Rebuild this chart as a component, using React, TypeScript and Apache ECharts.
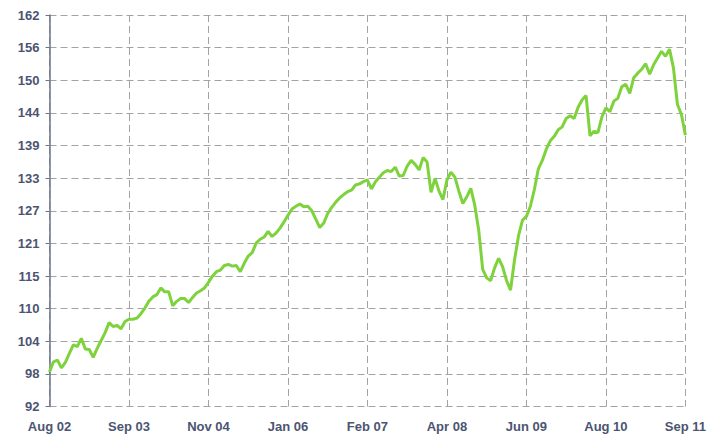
import React, { useEffect, useRef } from "react";
import * as echarts from "echarts";

// x-axis tick labels (evenly spaced)
const xLabels = ["Aug 02", "Sep 03", "Nov 04", "Jan 06", "Feb 07", "Apr 08", "Jun 09", "Aug 10", "Sep 11"];
// y-axis tick labels
const yTickLabels = ["92", "98", "104", "110", "115", "121", "127", "133", "139", "144", "150", "156", "162"];
const yMin = 92;
const yMax = 162;

// index values, sampled evenly across the period (161 samples)
const indexValues = [
  98.2, 100.0, 100.3, 98.9, 99.9, 101.5, 103.0, 102.7, 104.2, 102.3,
  102.2, 100.8, 102.4, 103.8, 105.2, 107.0, 106.3, 106.5, 105.9, 107.2,
  107.6, 107.6, 107.8, 108.6, 109.6, 110.8, 111.6, 112.0, 113.2, 112.5,
  112.5, 110.0, 110.8, 111.3, 111.3, 110.6, 111.5, 112.3, 112.7, 113.2,
  114.2, 115.3, 116.1, 116.4, 117.2, 117.4, 117.1, 117.2, 116.1, 117.6,
  118.9, 119.5, 121.2, 121.9, 122.3, 123.3, 122.4, 123.0, 123.9, 125.0,
  126.2, 127.3, 127.8, 128.2, 127.7, 127.8, 127.0, 125.5, 124.0, 124.8,
  126.5, 127.6, 128.5, 129.3, 129.9, 130.4, 130.7, 131.6, 131.8, 132.2,
  132.5, 130.9, 132.2, 133.0, 133.8, 134.2, 134.0, 134.8, 133.2, 133.3,
  135.0, 136.0, 135.3, 134.3, 136.5, 135.7, 130.3, 132.8, 130.5, 129.0,
  132.5, 133.9, 133.0, 130.5, 128.3, 129.5, 131.0, 128.0, 123.5, 116.5,
  115.0, 114.5, 116.8, 118.5, 117.0, 114.5, 112.8, 118.2, 122.5, 125.3,
  126.0, 127.8, 130.8, 134.5, 136.0, 138.0, 139.5, 140.3, 141.5, 142.0,
  143.5, 144.0, 143.5, 145.5, 146.8, 147.6, 140.4, 141.2, 141.0, 143.8,
  145.4, 144.7, 146.6, 147.1, 149.2, 149.6, 148.0, 150.8, 151.6, 152.3,
  153.3, 151.4, 153.1, 154.3, 155.5, 154.6, 155.9, 152.5, 146.0, 144.2,
  140.5,
];

const STEPS_PER_LABEL = 20;

export default function App() {
  const ref = useRef<HTMLDivElement>(null);

  useEffect(() => {
    if (!ref.current) return;
    const chart = echarts.init(ref.current, null, { renderer: "svg" });
    const lastX = (xLabels.length - 1) * STEPS_PER_LABEL;
    const yStep = (yMax - yMin) / (yTickLabels.length - 1);
    const labelColor = "#4b5571";
    const gridColor = "#a3a3a3";

    chart.setOption({
      animation: false,
      backgroundColor: "#ffffff",
      grid: { left: 49.5, right: 19.5, top: 15, bottom: 28.5, containLabel: false },
      xAxis: {
        type: "value",
        min: 0,
        max: lastX,
        interval: STEPS_PER_LABEL,
        axisLine: { show: false },
        axisTick: { show: false },
        axisLabel: {
          margin: 13,
          color: labelColor,
          fontFamily: "Liberation Sans, Arial, sans-serif",
          fontWeight: "bold",
          fontSize: 13,
          formatter: (v: number) => xLabels[Math.round(v / STEPS_PER_LABEL)] ?? "",
        },
        splitLine: {
          show: true,
          lineStyle: { color: gridColor, width: 1, type: [7, 4] },
        },
      },
      yAxis: {
        type: "value",
        min: yMin,
        max: yMax,
        interval: yStep,
        axisLine: { show: true, lineStyle: { color: "#6b7388", width: 1.5 } },
        axisTick: { show: true, inside: false, length: 4, lineStyle: { color: "#6b7388", width: 1 } },
        axisLabel: {
          margin: 10,
          color: labelColor,
          fontFamily: "Liberation Sans, Arial, sans-serif",
          fontWeight: "bold",
          fontSize: 13,
          formatter: (v: number) => yTickLabels[Math.round((v - yMin) / yStep)] ?? "",
        },
        splitLine: {
          show: true,
          lineStyle: { color: gridColor, width: 1, type: [7, 4] },
        },
      },
      series: [
        {
          type: "line",
          data: indexValues.map((v, i) => [i, v]),
          showSymbol: false,
          symbol: "none",
          lineStyle: { color: "#7ed23b", width: 3 },
          z: 5,
        },
      ],
    });

    return () => chart.dispose();
  }, []);

  return (
    <div
      ref={ref}
      style={{ position: "fixed", left: 0, top: 0, width: 709, height: 435, background: "#fff" }}
    />
  );
}
